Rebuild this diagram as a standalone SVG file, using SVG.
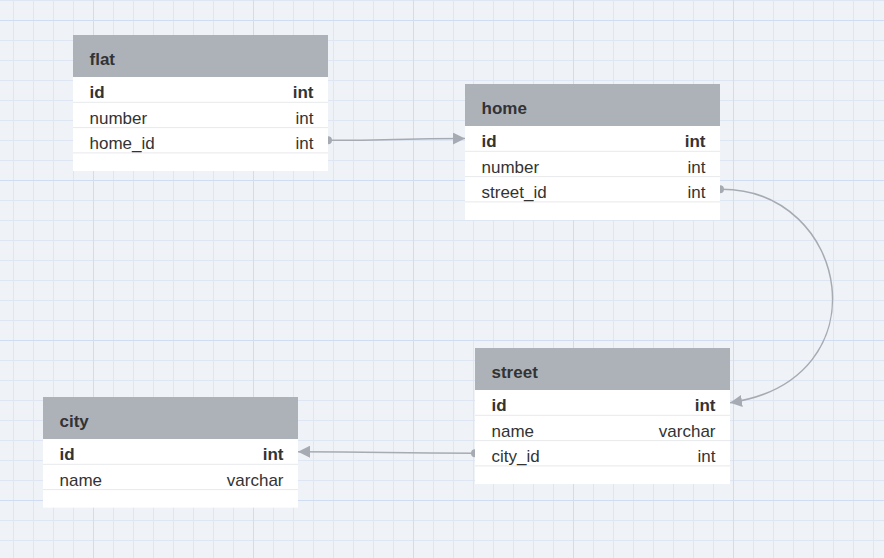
<svg xmlns="http://www.w3.org/2000/svg" width="884" height="558" viewBox="0 0 884 558">
<style>
.hdr{fill:#adb2b9}
.body{fill:#ffffff}
.sep{stroke:#e8e9eb;stroke-width:1}
text{font-family:"Liberation Sans",Arial,Helvetica,sans-serif;font-size:17px;fill:#333333}
.b{font-weight:bold}
.r{text-anchor:end}
.conn{fill:none;stroke:#a6abb3;stroke-width:1.5}
.dot{fill:#a6abb3}
</style>
<defs>
<pattern id="minor" x="13" y="0" width="20" height="20" patternUnits="userSpaceOnUse">
<rect x="0" y="0" width="1" height="20" fill="#dfe6f3"/>
<rect x="0" y="0" width="20" height="1" fill="#dfe6f3"/>
</pattern>
<pattern id="major" x="93" y="20" width="160" height="160" patternUnits="userSpaceOnUse">
<rect x="0" y="0" width="1" height="160" fill="#d0dcf2"/>
<rect x="0" y="0" width="160" height="1" fill="#d0dcf2"/>
</pattern>
<marker id="arrow" viewBox="0 0 12 12" refX="12" refY="6" markerWidth="12" markerHeight="12" markerUnits="userSpaceOnUse" orient="auto">
<path d="M0,0 L12,6 L0,12 z" fill="#a6abb3"/>
</marker>
</defs>
<rect x="0" y="0" width="884" height="558" fill="#eff2f6"/>
<rect x="0" y="0" width="884" height="558" fill="url(#minor)"/>
<rect x="0" y="0" width="884" height="558" fill="url(#major)"/>

<g id="connectors">
<circle class="dot" cx="328" cy="140.3" r="4"/>
<path class="conn" d="M328,140.3 C396,140.3 396,138.6 465,138.6" marker-end="url(#arrow)"/>
<circle class="dot" cx="720" cy="189.3" r="4"/>
<path class="conn" d="M720,189.3 C850,188 885,380 730,402.7" marker-end="url(#arrow)"/>
<circle class="dot" cx="475" cy="453.2" r="4"/>
<path class="conn" d="M475,453.2 C386,453.2 386,451.7 298,451.7" marker-end="url(#arrow)"/>
</g>

<g id="flat" transform="translate(73,35)">
<rect class="body" x="0" y="0" width="255" height="136"/>
<rect class="hdr" x="0" y="0" width="255" height="42"/>
<text class="b" x="16.5" y="29.5">flat</text>
<line class="sep" x1="0" y1="67.3" x2="255" y2="67.3"/>
<line class="sep" x1="0" y1="92.6" x2="255" y2="92.6"/>
<line class="sep" x1="0" y1="117.9" x2="255" y2="117.9"/>
<text class="b" x="16.5" y="63.3">id</text><text class="b r" x="240.5" y="63.3">int</text>
<text x="16.5" y="88.6">number</text><text class="r" x="240.5" y="88.6">int</text>
<text x="16.5" y="113.9">home_id</text><text class="r" x="240.5" y="113.9">int</text>
</g>

<g id="home" transform="translate(465,84)">
<rect class="body" x="0" y="0" width="255" height="136"/>
<rect class="hdr" x="0" y="0" width="255" height="42"/>
<text class="b" x="16.5" y="29.5">home</text>
<line class="sep" x1="0" y1="67.3" x2="255" y2="67.3"/>
<line class="sep" x1="0" y1="92.6" x2="255" y2="92.6"/>
<line class="sep" x1="0" y1="117.9" x2="255" y2="117.9"/>
<text class="b" x="16.5" y="63.3">id</text><text class="b r" x="240.5" y="63.3">int</text>
<text x="16.5" y="88.6">number</text><text class="r" x="240.5" y="88.6">int</text>
<text x="16.5" y="113.9">street_id</text><text class="r" x="240.5" y="113.9">int</text>
</g>

<g id="street" transform="translate(475,348)">
<rect class="body" x="0" y="0" width="255" height="136"/>
<rect class="hdr" x="0" y="0" width="255" height="42"/>
<text class="b" x="16.5" y="29.5">street</text>
<line class="sep" x1="0" y1="67.3" x2="255" y2="67.3"/>
<line class="sep" x1="0" y1="92.6" x2="255" y2="92.6"/>
<line class="sep" x1="0" y1="117.9" x2="255" y2="117.9"/>
<text class="b" x="16.5" y="63.3">id</text><text class="b r" x="240.5" y="63.3">int</text>
<text x="16.5" y="88.6">name</text><text class="r" x="240.5" y="88.6">varchar</text>
<text x="16.5" y="113.9">city_id</text><text class="r" x="240.5" y="113.9">int</text>
</g>

<g id="city" transform="translate(43,397)">
<rect class="body" x="0" y="0" width="255" height="110.6"/>
<rect class="hdr" x="0" y="0" width="255" height="42"/>
<text class="b" x="16.5" y="29.5">city</text>
<line class="sep" x1="0" y1="67.3" x2="255" y2="67.3"/>
<line class="sep" x1="0" y1="92.6" x2="255" y2="92.6"/>
<text class="b" x="16.5" y="63.3">id</text><text class="b r" x="240.5" y="63.3">int</text>
<text x="16.5" y="88.6">name</text><text class="r" x="240.5" y="88.6">varchar</text>
</g>
</svg>
